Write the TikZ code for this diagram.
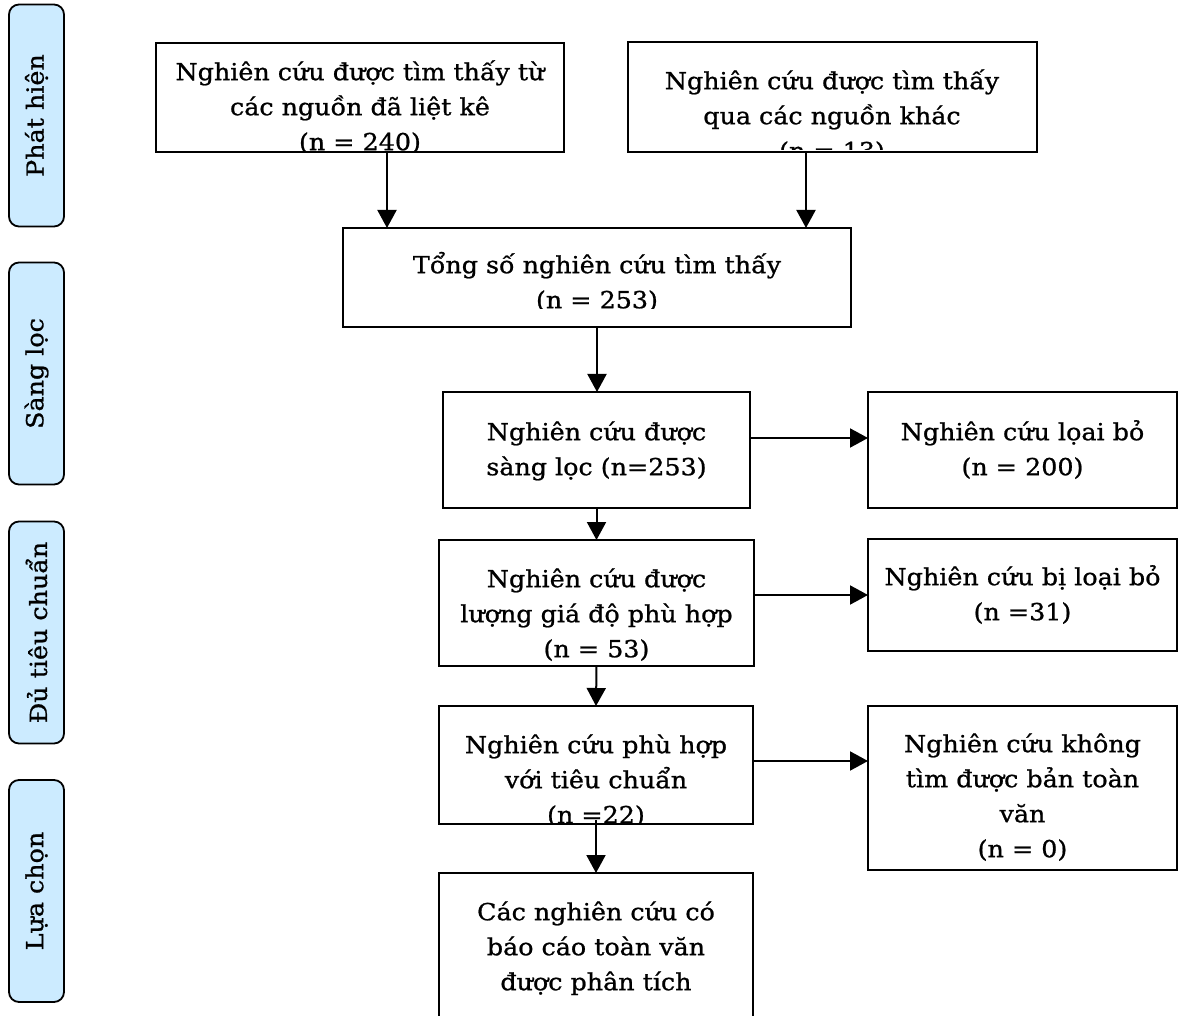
\documentclass[tikz,border=0pt]{standalone}
\usepackage{fontspec}
\setmainfont{DejaVu Serif}[FakeStretch=1.08,FakeBold=0.9]
\usetikzlibrary{arrows.meta}
\definecolor{lblue}{HTML}{CCEBFF}
\newcommand\tstr{\rule{0pt}{30pt}}
\newcommand\mybox[5]{\node[box, minimum width={(#4-#2)*1pt}, minimum height={(#5-#3)*1pt}] (#1) at ({(#2+#4)/2},{(#3+#5)/2}) {};}
\begin{document}
\begin{tikzpicture}[x=1pt,y=-1pt,
  box/.style={draw=black, line width=2pt, rectangle, inner sep=0pt, outer sep=0pt},
  lbl/.style={draw=black, line width=1.8pt, fill=lblue, rounded corners=10pt, inner sep=0pt, rotate=90, minimum width=222pt, minimum height=55pt, font=\fontsize{23.5}{35}\selectfont},
  txt/.style={inner sep=0pt, align=center, anchor=north, font=\fontsize{23.5}{35}\selectfont},
  arr/.style={line width=2pt, -{Triangle[width=19pt,length=18pt]}},
]
\useasboundingbox (0,0) rectangle (1179,1016);
% side labels
\node[lbl] (l1) at (36.5,115.5) {Phát hiện};
\node[lbl] (l2) at (36.5,373.5) {Sàng lọc};
\node[lbl] (l3) at (36.5,632.5) {Đủ tiêu chuẩn};
\node[lbl] (l4) at (36.5,891) {Lựa chọn};
% boxes
\mybox{a}{156}{43}{564}{152}
\mybox{b}{628}{42}{1037}{152}
\mybox{tong}{343}{228}{851}{327}
\mybox{scr}{443}{392}{750}{508}
\mybox{elig}{439}{540}{754}{666}
\mybox{suit}{439}{706}{753}{824}
\mybox{fin}{439}{873}{753}{1040}
\mybox{ex1}{868}{392}{1177}{508}
\mybox{ex2}{868}{539}{1177}{651}
\mybox{ex3}{868}{706}{1177}{870}
% texts
\begin{scope}
\clip (156,43) rectangle (564,152);
\node[txt] (at) at (360,50) {\tstr Nghiên cứu được tìm thấy từ\\các nguồn đã liệt kê\\(n = 240)};
\end{scope}
\begin{scope}
\clip (628,42) rectangle (1037,150);
\node[txt] (bt) at (832,59) {\tstr Nghiên cứu được tìm thấy\\qua các nguồn khác\\(n = 13)};
\end{scope}
\begin{scope}
\clip (343,228) rectangle (851,309);
\node[txt] (tt) at (597,243) {\tstr Tổng số nghiên cứu tìm thấy\\(n = 253)};
\end{scope}
\node[txt] (st) at (596.5,410) {\tstr Nghiên cứu được\\sàng lọc (n=253)};
\node[txt] (et) at (596.5,557) {\tstr Nghiên cứu được\\lượng giá độ phù hợp\\(n = 53)};
\begin{scope}
\clip (439,706) rectangle (753,822);
\node[txt] (ut) at (596,723) {\tstr Nghiên cứu phù hợp\\với tiêu chuẩn\\(n =22)};
\end{scope}
\node[txt] (ft) at (596,890) {\tstr Các nghiên cứu có\\báo cáo toàn văn\\được phân tích};
\node[txt] (x1t) at (1022.5,410) {\tstr Nghiên cứu lọai bỏ\\(n = 200)};
\node[txt] (x2t) at (1022.5,555) {\tstr Nghiên cứu bị loại bỏ\\(n =31)};
\node[txt] (x3t) at (1022.5,722) {\tstr Nghiên cứu không\\tìm được bản toàn\\văn\\(n = 0)};
% arrows
\coordinate (a1) at ([xshift=27pt]a.south);
\coordinate (b1) at ([xshift=-26.5pt]b.south);
\draw[arr] (a1) -- (a1 |- tong.north);
\draw[arr] (b1) -- (b1 |- tong.north);
\draw[arr] (tong.south) -- (tong.south |- scr.north);
\draw[arr] (scr.south) -- (elig.north);
\draw[arr] (elig.south) -- (suit.north);
\draw[arr] ([yshift=4pt]suit.south) -- (fin.north);
\coordinate (s1) at ([yshift=12pt]scr.east);
\coordinate (s2) at ([yshift=8pt]elig.east);
\coordinate (s3) at ([yshift=4pt]suit.east);
\draw[arr] (s1) -- (s1 -| ex1.west);
\draw[arr] (s2) -- (s2 -| ex2.west);
\draw[arr] (s3) -- (s3 -| ex3.west);
\end{tikzpicture}
\end{document}
